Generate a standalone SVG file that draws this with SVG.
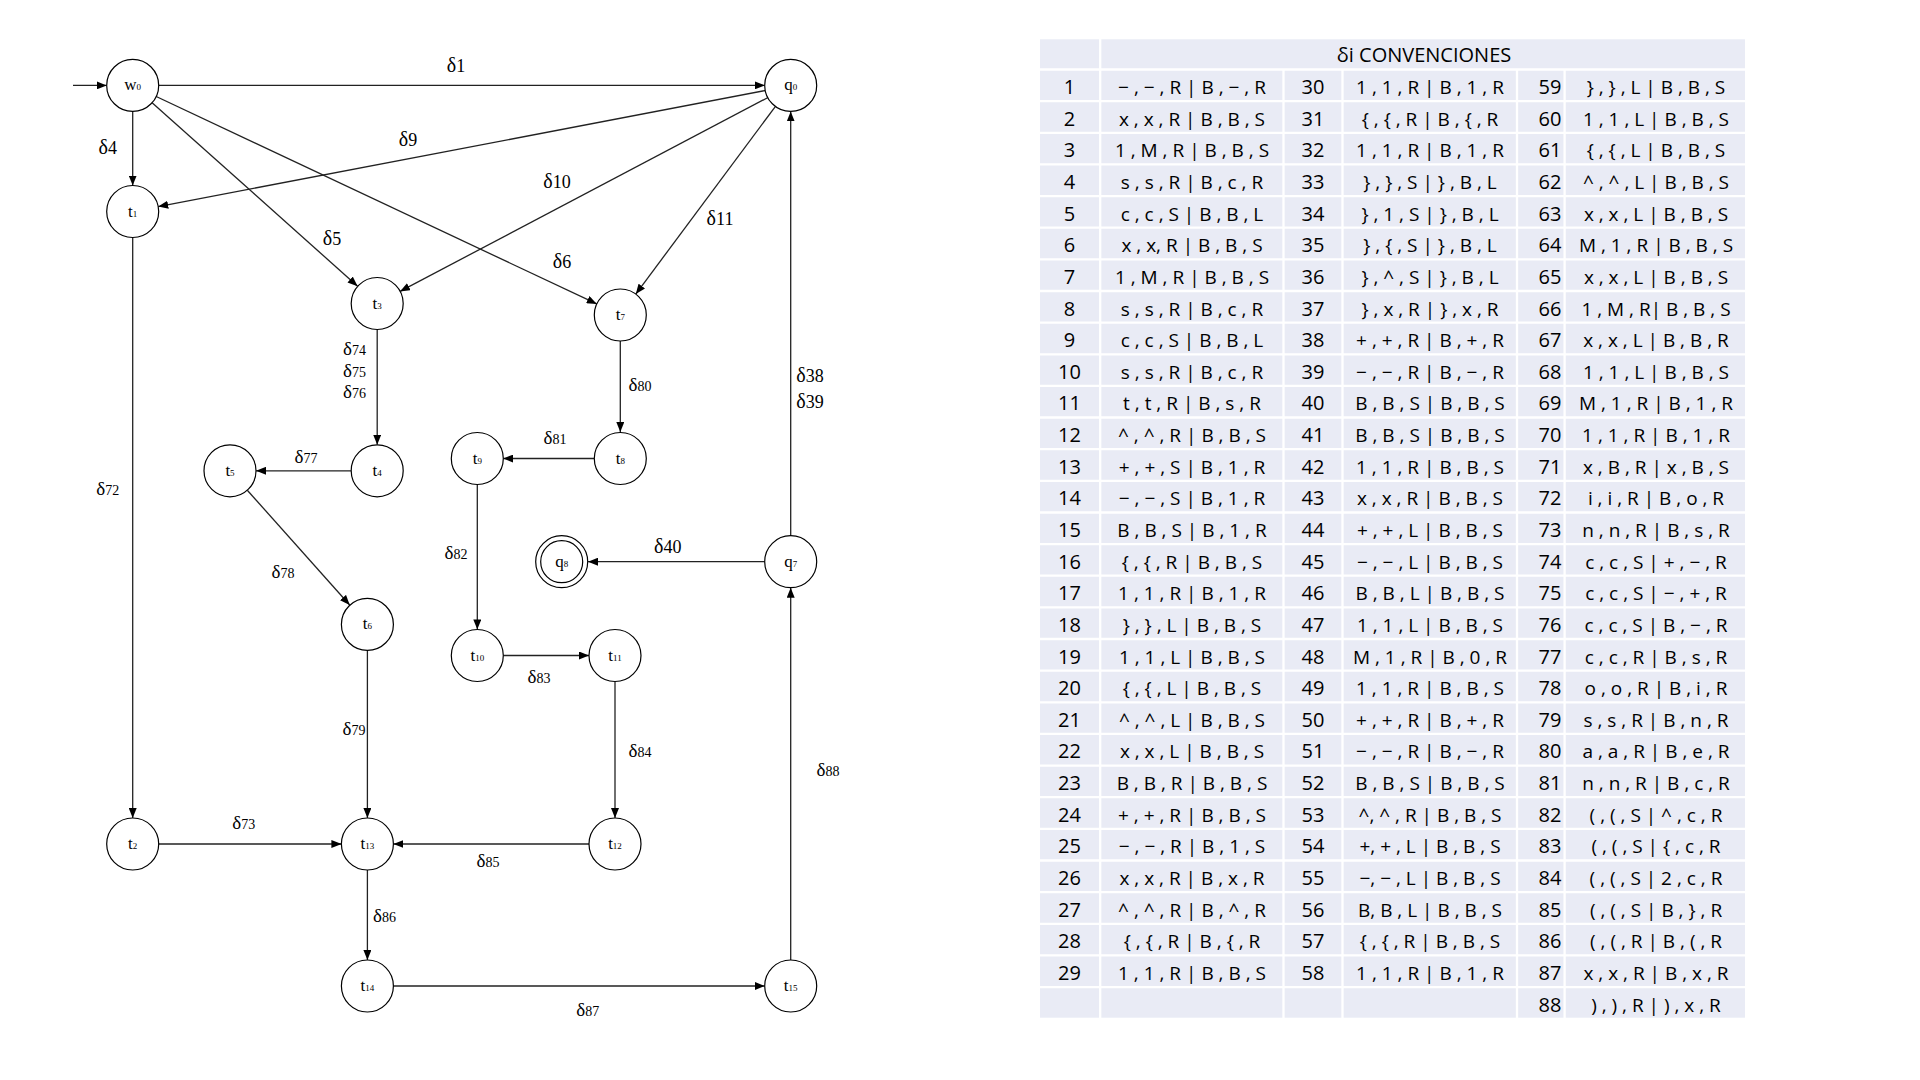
<svg xmlns="http://www.w3.org/2000/svg" width="1920" height="1080" viewBox="0 0 1920 1080">
<style>
.n circle{fill:#fff;stroke:#000;stroke-width:1.2}
.nl{font-family:"Liberation Serif",serif;font-size:17px;text-anchor:middle;fill:#000}
.sb{font-size:9px}
.e{fill:none;stroke:#222;stroke-width:1.3;marker-end:url(#ah)}
.lbl{font-family:"Liberation Serif",serif;text-anchor:middle;fill:#000}
.big{font-size:18px}
.big .dl{font-size:20px}
.sm{font-size:14px}
.sm .dl{font-size:19px}
.tn{font-family:"Open Sans",sans-serif;font-size:20px;text-anchor:middle;fill:#000}
.td{font-family:"Open Sans",sans-serif;font-size:19px;text-anchor:middle;fill:#000}
</style>
<defs>
<marker id="ah" markerUnits="userSpaceOnUse" markerWidth="10" markerHeight="8" refX="10" refY="4" orient="auto">
<path d="M0,0 L10,4 L0,8 z" fill="#000"/>
</marker>
</defs>
<rect width="1920" height="1080" fill="#fff"/>

<g id="connectors">
<path class="e" d="M73,85.4 H106.7"/>
<path class="e" d="M158.7,85.4 H764.7"/>
<path class="e" d="M132.7,111.4 V185.5"/>
<path class="e" d="M765.5,90.5 L158.2,206.6"/>
<path class="e" d="M152.1,102.7 L357.6,286.2"/>
<path class="e" d="M156.2,96.5 L596.8,303.9"/>
<path class="e" d="M768,97.5 L400,291.4"/>
<path class="e" d="M775.5,106.3 L635.8,294.1"/>
<path class="e" d="M132.7,237.5 V818"/>
<path class="e" d="M377.2,329.5 V444.8"/>
<path class="e" d="M620.3,341 V432"/>
<path class="e" d="M351.2,470.8 H256"/>
<path class="e" d="M594.3,458.5 H503.3"/>
<path class="e" d="M247.3,490.2 L349.7,605"/>
<path class="e" d="M477.3,484.5 V629.4"/>
<path class="e" d="M503.3,655.5 H589"/>
<path class="e" d="M615,681.5 V818"/>
<path class="e" d="M367.4,650.4 V818"/>
<path class="e" d="M158.7,844 H341.4"/>
<path class="e" d="M589,844 H393.4"/>
<path class="e" d="M367.4,870 V960"/>
<path class="e" d="M393.4,986 H764.7"/>
<path class="e" d="M790.7,960 V587.7"/>
<path class="e" d="M790.7,535.7 V111.4"/>
<path class="e" d="M764.7,561.7 H588"/>
</g>

<g id="edge-labels" class="lbl">
<text class="big" x="456" y="71.7"><tspan class="dl">δ</tspan>1</text>
<text class="big" x="107.7" y="153.5"><tspan class="dl">δ</tspan>4</text>
<text class="big" x="408" y="146"><tspan class="dl">δ</tspan>9</text>
<text class="big" x="557" y="187.5"><tspan class="dl">δ</tspan>10</text>
<text class="big" x="720" y="225"><tspan class="dl">δ</tspan>11</text>
<text class="big" x="332" y="245"><tspan class="dl">δ</tspan>5</text>
<text class="big" x="562" y="268"><tspan class="dl">δ</tspan>6</text>
<text class="big" x="810" y="382"><tspan class="dl">δ</tspan>38</text>
<text class="big" x="810" y="408"><tspan class="dl">δ</tspan>39</text>
<text class="big" x="667.7" y="553"><tspan class="dl">δ</tspan>40</text>
<text class="sm" x="354.5" y="355"><tspan class="dl">δ</tspan>74</text>
<text class="sm" x="354.5" y="376.5"><tspan class="dl">δ</tspan>75</text>
<text class="sm" x="354.5" y="398.3"><tspan class="dl">δ</tspan>76</text>
<text class="sm" x="640" y="391"><tspan class="dl">δ</tspan>80</text>
<text class="sm" x="555" y="444"><tspan class="dl">δ</tspan>81</text>
<text class="sm" x="306" y="463"><tspan class="dl">δ</tspan>77</text>
<text class="sm" x="107.7" y="495"><tspan class="dl">δ</tspan>72</text>
<text class="sm" x="456" y="559"><tspan class="dl">δ</tspan>82</text>
<text class="sm" x="283" y="578"><tspan class="dl">δ</tspan>78</text>
<text class="sm" x="539" y="683"><tspan class="dl">δ</tspan>83</text>
<text class="sm" x="354" y="734.7"><tspan class="dl">δ</tspan>79</text>
<text class="sm" x="640" y="757"><tspan class="dl">δ</tspan>84</text>
<text class="sm" x="828" y="776"><tspan class="dl">δ</tspan>88</text>
<text class="sm" x="243.7" y="828.7"><tspan class="dl">δ</tspan>73</text>
<text class="sm" x="488" y="867"><tspan class="dl">δ</tspan>85</text>
<text class="sm" x="384.5" y="921.7"><tspan class="dl">δ</tspan>86</text>
<text class="sm" x="587.7" y="1016.4"><tspan class="dl">δ</tspan>87</text>
</g>

<g id="w0" class="n"><circle cx="132.7" cy="85.4" r="26"/><text class="nl" x="132.7" y="90.4">w<tspan class="sb">0</tspan></text></g>
<g id="q0" class="n"><circle cx="790.7" cy="85.4" r="26"/><text class="nl" x="790.7" y="90.4">q<tspan class="sb">0</tspan></text></g>
<g id="t1" class="n"><circle cx="132.7" cy="211.5" r="26"/><text class="nl" x="132.7" y="216.5">t<tspan class="sb">1</tspan></text></g>
<g id="t3" class="n"><circle cx="377.2" cy="303.5" r="26"/><text class="nl" x="377.2" y="308.5">t<tspan class="sb">3</tspan></text></g>
<g id="t7" class="n"><circle cx="620.3" cy="315" r="26"/><text class="nl" x="620.3" y="320">t<tspan class="sb">7</tspan></text></g>
<g id="t4" class="n"><circle cx="377.2" cy="470.8" r="26"/><text class="nl" x="377.2" y="475.8">t<tspan class="sb">4</tspan></text></g>
<g id="t5" class="n"><circle cx="230" cy="470.8" r="26"/><text class="nl" x="230" y="475.8">t<tspan class="sb">5</tspan></text></g>
<g id="t8" class="n"><circle cx="620.3" cy="458.5" r="26"/><text class="nl" x="620.3" y="463.5">t<tspan class="sb">8</tspan></text></g>
<g id="t9" class="n"><circle cx="477.3" cy="458.5" r="26"/><text class="nl" x="477.3" y="463.5">t<tspan class="sb">9</tspan></text></g>
<g id="q8" class="n"><circle cx="561.7" cy="561.7" r="26"/><circle cx="561.7" cy="561.7" r="21"/><text class="nl" x="561.7" y="566.7">q<tspan class="sb">8</tspan></text></g>
<g id="q7" class="n"><circle cx="790.7" cy="561.7" r="26"/><text class="nl" x="790.7" y="566.7">q<tspan class="sb">7</tspan></text></g>
<g id="t6" class="n"><circle cx="367.4" cy="624.4" r="26"/><text class="nl" x="367.4" y="629.4">t<tspan class="sb">6</tspan></text></g>
<g id="t10" class="n"><circle cx="477.3" cy="655.5" r="26"/><text class="nl" x="477.3" y="660.5">t<tspan class="sb">10</tspan></text></g>
<g id="t11" class="n"><circle cx="615" cy="655.5" r="26"/><text class="nl" x="615" y="660.5">t<tspan class="sb">11</tspan></text></g>
<g id="t2" class="n"><circle cx="132.7" cy="844" r="26"/><text class="nl" x="132.7" y="849">t<tspan class="sb">2</tspan></text></g>
<g id="t13" class="n"><circle cx="367.4" cy="844" r="26"/><text class="nl" x="367.4" y="849">t<tspan class="sb">13</tspan></text></g>
<g id="t12" class="n"><circle cx="615" cy="844" r="26"/><text class="nl" x="615" y="849">t<tspan class="sb">12</tspan></text></g>
<g id="t14" class="n"><circle cx="367.4" cy="986" r="26"/><text class="nl" x="367.4" y="991">t<tspan class="sb">14</tspan></text></g>
<g id="t15" class="n"><circle cx="790.7" cy="986" r="26"/><text class="nl" x="790.7" y="991">t<tspan class="sb">15</tspan></text></g>

<g id="table">
<rect x="1040" y="39.3" width="705" height="978.4" fill="#E9EBF5"/>
<path fill="none" stroke="#fff" stroke-width="2.3" d="M1040,69.5H1745 M1040,101.1H1745 M1040,132.8H1745 M1040,164.4H1745 M1040,196.1H1745 M1040,227.7H1745 M1040,259.3H1745 M1040,291H1745 M1040,322.6H1745 M1040,354.3H1745 M1040,385.9H1745 M1040,417.5H1745 M1040,449.2H1745 M1040,480.8H1745 M1040,512.5H1745 M1040,544.1H1745 M1040,575.7H1745 M1040,607.4H1745 M1040,639H1745 M1040,670.7H1745 M1040,702.3H1745 M1040,733.9H1745 M1040,765.6H1745 M1040,797.2H1745 M1040,828.9H1745 M1040,860.5H1745 M1040,892.1H1745 M1040,923.8H1745 M1040,955.4H1745 M1040,987.1H1745 M1100.2,39V1018 M1283.5,69.5V1018 M1342.5,69.5V1018 M1517,69.5V1018 M1564.6,69.5V1018"/>
<text class="tn" x="1424" y="61.5" font-size="21">δi CONVENCIONES</text>

<g class="tn">
<text x="1069.5" y="94">1</text><text x="1069.5" y="125.6">2</text><text x="1069.5" y="157.3">3</text><text x="1069.5" y="188.9">4</text><text x="1069.5" y="220.6">5</text><text x="1069.5" y="252.2">6</text><text x="1069.5" y="283.8">7</text><text x="1069.5" y="315.5">8</text><text x="1069.5" y="347.1">9</text><text x="1069.5" y="378.8">10</text><text x="1069.5" y="410.4">11</text><text x="1069.5" y="442">12</text><text x="1069.5" y="473.7">13</text><text x="1069.5" y="505.3">14</text><text x="1069.5" y="537">15</text><text x="1069.5" y="568.6">16</text><text x="1069.5" y="600.2">17</text><text x="1069.5" y="631.9">18</text><text x="1069.5" y="663.5">19</text><text x="1069.5" y="695.2">20</text><text x="1069.5" y="726.8">21</text><text x="1069.5" y="758.4">22</text><text x="1069.5" y="790.1">23</text><text x="1069.5" y="821.7">24</text><text x="1069.5" y="853.4">25</text><text x="1069.5" y="885">26</text><text x="1069.5" y="916.6">27</text><text x="1069.5" y="948.3">28</text><text x="1069.5" y="979.9">29</text>
<text x="1313" y="94">30</text><text x="1313" y="125.6">31</text><text x="1313" y="157.3">32</text><text x="1313" y="188.9">33</text><text x="1313" y="220.6">34</text><text x="1313" y="252.2">35</text><text x="1313" y="283.8">36</text><text x="1313" y="315.5">37</text><text x="1313" y="347.1">38</text><text x="1313" y="378.8">39</text><text x="1313" y="410.4">40</text><text x="1313" y="442">41</text><text x="1313" y="473.7">42</text><text x="1313" y="505.3">43</text><text x="1313" y="537">44</text><text x="1313" y="568.6">45</text><text x="1313" y="600.2">46</text><text x="1313" y="631.9">47</text><text x="1313" y="663.5">48</text><text x="1313" y="695.2">49</text><text x="1313" y="726.8">50</text><text x="1313" y="758.4">51</text><text x="1313" y="790.1">52</text><text x="1313" y="821.7">53</text><text x="1313" y="853.4">54</text><text x="1313" y="885">55</text><text x="1313" y="916.6">56</text><text x="1313" y="948.3">57</text><text x="1313" y="979.9">58</text>
<text x="1550" y="94">59</text><text x="1550" y="125.6">60</text><text x="1550" y="157.3">61</text><text x="1550" y="188.9">62</text><text x="1550" y="220.6">63</text><text x="1550" y="252.2">64</text><text x="1550" y="283.8">65</text><text x="1550" y="315.5">66</text><text x="1550" y="347.1">67</text><text x="1550" y="378.8">68</text><text x="1550" y="410.4">69</text><text x="1550" y="442">70</text><text x="1550" y="473.7">71</text><text x="1550" y="505.3">72</text><text x="1550" y="537">73</text><text x="1550" y="568.6">74</text><text x="1550" y="600.2">75</text><text x="1550" y="631.9">76</text><text x="1550" y="663.5">77</text><text x="1550" y="695.2">78</text><text x="1550" y="726.8">79</text><text x="1550" y="758.4">80</text><text x="1550" y="790.1">81</text><text x="1550" y="821.7">82</text><text x="1550" y="853.4">83</text><text x="1550" y="885">84</text><text x="1550" y="916.6">85</text><text x="1550" y="948.3">86</text><text x="1550" y="979.9">87</text><text x="1550" y="1011.6">88</text>
</g>

<g class="td">
<text x="1192" y="94">− , − , R | B , − , R</text>
<text x="1192" y="125.6">x , x , R | B , B , S</text>
<text x="1192" y="157.3">1 , M , R | B , B , S</text>
<text x="1192" y="188.9">s , s , R | B , c , R</text>
<text x="1192" y="220.6">c , c , S | B , B , L</text>
<text x="1192" y="252.2">x , x, R | B , B , S</text>
<text x="1192" y="283.8">1 , M , R | B , B , S</text>
<text x="1192" y="315.5">s , s , R | B , c , R</text>
<text x="1192" y="347.1">c , c , S | B , B , L</text>
<text x="1192" y="378.8">s , s , R | B , c , R</text>
<text x="1192" y="410.4">t , t , R | B , s , R</text>
<text x="1192" y="442">^ , ^ , R | B , B , S</text>
<text x="1192" y="473.7">+ , + , S | B , 1 , R</text>
<text x="1192" y="505.3">− , − , S | B , 1 , R</text>
<text x="1192" y="537">B , B , S | B , 1 , R</text>
<text x="1192" y="568.6">{ , { , R | B , B , S</text>
<text x="1192" y="600.2">1 , 1 , R | B , 1 , R</text>
<text x="1192" y="631.9">} , } , L | B , B , S</text>
<text x="1192" y="663.5">1 , 1 , L | B , B , S</text>
<text x="1192" y="695.2">{ , { , L | B , B , S</text>
<text x="1192" y="726.8">^ , ^ , L | B , B , S</text>
<text x="1192" y="758.4">x , x , L | B , B , S</text>
<text x="1192" y="790.1">B , B , R | B , B , S</text>
<text x="1192" y="821.7">+ , + , R | B , B , S</text>
<text x="1192" y="853.4">− , − , R | B , 1 , S</text>
<text x="1192" y="885">x , x , R | B , x , R</text>
<text x="1192" y="916.6">^ , ^ , R | B , ^ , R</text>
<text x="1192" y="948.3">{ , { , R | B , { , R</text>
<text x="1192" y="979.9">1 , 1 , R | B , B , S</text>

<text x="1430" y="94">1 , 1 , R | B , 1 , R</text>
<text x="1430" y="125.6">{ , { , R | B , { , R</text>
<text x="1430" y="157.3">1 , 1 , R | B , 1 , R</text>
<text x="1430" y="188.9">} , } , S | } , B , L</text>
<text x="1430" y="220.6">} , 1 , S | } , B , L</text>
<text x="1430" y="252.2">} , { , S | } , B , L</text>
<text x="1430" y="283.8">} , ^ , S | } , B , L</text>
<text x="1430" y="315.5">} , x , R | } , x , R</text>
<text x="1430" y="347.1">+ , + , R | B , + , R</text>
<text x="1430" y="378.8">− , − , R | B , − , R</text>
<text x="1430" y="410.4">B , B , S | B , B , S</text>
<text x="1430" y="442">B , B , S | B , B , S</text>
<text x="1430" y="473.7">1 , 1 , R | B , B , S</text>
<text x="1430" y="505.3">x , x , R | B , B , S</text>
<text x="1430" y="537">+ , + , L | B , B , S</text>
<text x="1430" y="568.6">− , − , L | B , B , S</text>
<text x="1430" y="600.2">B , B , L | B , B , S</text>
<text x="1430" y="631.9">1 , 1 , L | B , B , S</text>
<text x="1430" y="663.5">M , 1 , R | B , 0 , R</text>
<text x="1430" y="695.2">1 , 1 , R | B , B , S</text>
<text x="1430" y="726.8">+ , + , R | B , + , R</text>
<text x="1430" y="758.4">− , − , R | B , − , R</text>
<text x="1430" y="790.1">B , B , S | B , B , S</text>
<text x="1430" y="821.7">^, ^ , R | B , B , S</text>
<text x="1430" y="853.4">+, + , L | B , B , S</text>
<text x="1430" y="885">−, − , L | B , B , S</text>
<text x="1430" y="916.6">B, B , L | B , B , S</text>
<text x="1430" y="948.3">{ , { , R | B , B , S</text>
<text x="1430" y="979.9">1 , 1 , R | B , 1 , R</text>

<text x="1656" y="94">} , } , L | B , B , S</text>
<text x="1656" y="125.6">1 , 1 , L | B , B , S</text>
<text x="1656" y="157.3">{ , { , L | B , B , S</text>
<text x="1656" y="188.9">^ , ^ , L | B , B , S</text>
<text x="1656" y="220.6">x , x , L | B , B , S</text>
<text x="1656" y="252.2">M , 1 , R | B , B , S</text>
<text x="1656" y="283.8">x , x , L | B , B , S</text>
<text x="1656" y="315.5">1 , M , R| B , B , S</text>
<text x="1656" y="347.1">x , x , L | B , B , R</text>
<text x="1656" y="378.8">1 , 1 , L | B , B , S</text>
<text x="1656" y="410.4">M , 1 , R | B , 1 , R</text>
<text x="1656" y="442">1 , 1 , R | B , 1 , R</text>
<text x="1656" y="473.7">x , B , R | x , B , S</text>
<text x="1656" y="505.3">i , i , R | B , o , R</text>
<text x="1656" y="537">n , n , R | B , s , R</text>
<text x="1656" y="568.6">c , c , S | + , − , R</text>
<text x="1656" y="600.2">c , c , S | − , + , R</text>
<text x="1656" y="631.9">c , c , S | B , − , R</text>
<text x="1656" y="663.5">c , c , R | B , s , R</text>
<text x="1656" y="695.2">o , o , R | B , i , R</text>
<text x="1656" y="726.8">s , s , R | B , n , R</text>
<text x="1656" y="758.4">a , a , R | B , e , R</text>
<text x="1656" y="790.1">n , n , R | B , c , R</text>
<text x="1656" y="821.7">( , ( , S | ^ , c , R</text>
<text x="1656" y="853.4">( , ( , S | { , c , R</text>
<text x="1656" y="885">( , ( , S | 2 , c , R</text>
<text x="1656" y="916.6">( , ( , S | B , } , R</text>
<text x="1656" y="948.3">( , ( , R | B , ( , R</text>
<text x="1656" y="979.9">x , x , R | B , x , R</text>
<text x="1656" y="1011.6">) , ) , R | ) , x , R</text>
</g>
</g>
</svg>
